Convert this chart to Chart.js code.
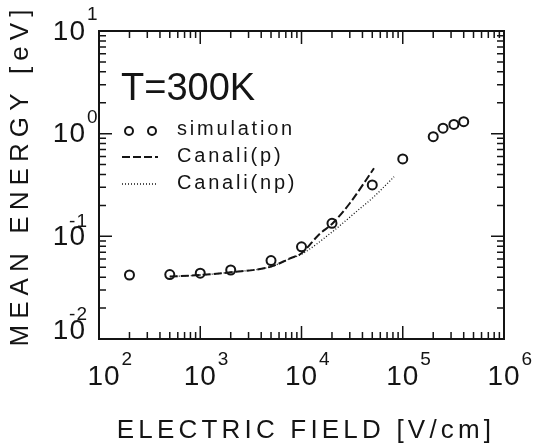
<!DOCTYPE html>
<html>
<head>
<meta charset="utf-8">
<script src="https://cdn.jsdelivr.net/npm/chart.js@4.4.0/dist/chart.umd.min.js"></script>
<style>
  html, body { margin: 0; padding: 0; background: #fff; }
  canvas { display: block; }
</style>
</head>
<body>
<canvas id="energyChart" width="548" height="445"></canvas>
<script>
// simulation points
const simField = [200, 500, 1000, 2000, 5000, 1e4, 2e4, 5e4, 1e5, 2e5, 2.5e5, 3.2e5, 4e5]
const simEnergy = [0.042, 0.0424, 0.0438, 0.047, 0.058, 0.079, 0.134, 0.317, 0.568, 0.935, 1.13, 1.23, 1.31]

// Canali (p) curve
const canaliPField = [500, 1000, 2000, 5000, 7700, 1e4, 1.5e4, 2e4, 3e4, 5.2e4]
const canaliPEnergy = [0.0406, 0.042, 0.0447, 0.0507, 0.061, 0.0684, 0.105, 0.132, 0.21, 0.46]

// Canali (np) curve
const canaliNpField = [500, 1000, 2000, 5000, 7700, 1e4, 2e4, 3.5e4, 5e4, 8.2e4]
const canaliNpEnergy = [0.0406, 0.042, 0.0447, 0.0507, 0.0605, 0.067, 0.11, 0.175, 0.235, 0.38]

// decade ticks and their exponents
const xTicks = [1e2, 1e3, 1e4, 1e5, 1e6]
const xTickExp = ['2', '3', '4', '5', '6']
const yTicks = [1e-2, 1e-1, 1e0, 1e1]
const yTickExp = ['-2', '-1', '0', '1']

const xTitle = 'ELECTRIC FIELD [V/cm]'
const yTitle = 'MEAN ENERGY [eV]'
const tempLabel = 'T=300K'
const legendLabels = ['simulation', 'Canali(p)', 'Canali(np)']

const INK = '#141414'
const FONT = '"Liberation Sans", Arial, sans-serif'

function toPoints (xs, ys) {
  return xs.map((x, i) => ({ x, y: ys[i] }))
}

// frame, inward ticks, labels and legend
const decorations = {
  id: 'decorations',
  afterDatasetsDraw (chart) {
    const ctx = chart.ctx
    const area = chart.chartArea
    const xs = chart.scales.x
    const ys = chart.scales.y
    ctx.save()
    ctx.strokeStyle = INK
    ctx.fillStyle = INK

    // frame
    ctx.lineWidth = 2
    ctx.strokeRect(area.left, area.top, area.right - area.left, area.bottom - area.top)

    // ticks
    ctx.lineWidth = 1.5
    ctx.beginPath()
    for (let i = 0; i < xTicks.length; i++) {
      for (let m = 1; m <= 9; m++) {
        const v = xTicks[i] * m
        if (v > xTicks[xTicks.length - 1]) break
        const px = xs.getPixelForValue(v)
        const len = m === 1 ? 13 : 7
        ctx.moveTo(px, area.bottom); ctx.lineTo(px, area.bottom - len)
        ctx.moveTo(px, area.top); ctx.lineTo(px, area.top + len)
      }
    }
    for (let i = 0; i < yTicks.length; i++) {
      for (let m = 1; m <= 9; m++) {
        const v = yTicks[i] * m
        if (v > yTicks[yTicks.length - 1]) break
        const py = ys.getPixelForValue(v)
        const len = m === 1 ? 13 : 7
        ctx.moveTo(area.left, py); ctx.lineTo(area.left + len, py)
        ctx.moveTo(area.right, py); ctx.lineTo(area.right - len, py)
      }
    }
    ctx.stroke()

    // x tick labels
    ctx.letterSpacing = '1px'
    xTicks.forEach((v, i) => {
      let px = xs.getPixelForValue(v)
      if (i === 0) px += 5
      ctx.font = '28px ' + FONT
      ctx.textAlign = 'center'
      ctx.textBaseline = 'middle'
      ctx.fillText('10', px, 377)
      const w = ctx.measureText('10').width
      ctx.font = '19px ' + FONT
      ctx.textAlign = 'left'
      ctx.fillText(xTickExp[i], px + w / 2 + 1, 360)
    })

    // y tick labels
    yTicks.forEach((v, i) => {
      const py = Math.min(ys.getPixelForValue(v), area.bottom - 9)
      ctx.font = '28px ' + FONT
      ctx.textAlign = 'right'
      ctx.textBaseline = 'middle'
      ctx.fillText('10', area.left - 13, py + 1)
      ctx.font = '19px ' + FONT
      const e = yTickExp[i]
      if (e.startsWith('-')) {
        ctx.textAlign = 'right'
        ctx.fillText(e, area.left - 11, py - 15)
      } else {
        ctx.textAlign = 'left'
        ctx.fillText(e, area.left - 12, py - 16)
      }
    })

    // axis titles
    ctx.font = '26px ' + FONT
    ctx.letterSpacing = '4.2px'
    ctx.textAlign = 'center'
    ctx.textBaseline = 'middle'
    ctx.fillText(xTitle, 306, 431)
    ctx.save()
    ctx.translate(21, 175)
    ctx.rotate(-Math.PI / 2)
    ctx.letterSpacing = '6.1px'
    ctx.fillText(yTitle, 0, 0)
    ctx.restore()

    // temperature
    ctx.letterSpacing = '0px'
    ctx.font = '38px ' + FONT
    ctx.textAlign = 'left'
    ctx.fillText(tempLabel, 121, 90)

    // legend
    const rows = [130, 157, 184]
    const sim = chart.data.datasets[0]
    ctx.lineWidth = sim.pointBorderWidth
    ;[129, 152].forEach(cx => {
      ctx.beginPath()
      ctx.arc(cx, rows[0] + 1, sim.pointRadius - 0.5, 0, Math.PI * 2)
      ctx.stroke()
    })
    ;[1, 2].forEach(k => {
      const ds = chart.data.datasets[k]
      ctx.save()
      ctx.lineWidth = ds.borderWidth
      ctx.setLineDash(ds.borderDash)
      ctx.beginPath()
      ctx.moveTo(122, rows[k])
      ctx.lineTo(158, rows[k])
      ctx.stroke()
      ctx.restore()
    })
    ctx.font = '20px ' + FONT
    ctx.letterSpacing = '2.8px'
    legendLabels.forEach((t, k) => {
      ctx.fillText(t, 177, rows[k] - 1)
    })
    ctx.restore()
  }
}

const chart = new Chart(document.getElementById('energyChart'), {
  type: 'scatter',
  data: {
    datasets: [
      {
        label: legendLabels[0],
        data: toPoints(simField, simEnergy),
        showLine: false,
        pointRadius: 4.5,
        pointBorderWidth: 2,
        borderColor: INK,
        backgroundColor: 'rgba(0,0,0,0)',
        order: 0
      },
      {
        label: legendLabels[1],
        data: toPoints(canaliPField, canaliPEnergy),
        showLine: true,
        pointRadius: 0,
        borderColor: INK,
        borderWidth: 2,
        borderDash: [8, 3],
        cubicInterpolationMode: 'monotone',
        order: 1
      },
      {
        label: legendLabels[2],
        data: toPoints(canaliNpField, canaliNpEnergy),
        showLine: true,
        pointRadius: 0,
        borderColor: INK,
        borderWidth: 1.3,
        borderDash: [1, 2],
        cubicInterpolationMode: 'monotone',
        order: 2
      }
    ]
  },
  options: {
    responsive: false,
    animation: false,
    devicePixelRatio: 1,
    layout: { padding: { left: 99, right: 44, top: 31, bottom: 106 } },
    plugins: {
      legend: { display: false },
      tooltip: { enabled: false }
    },
    scales: {
      x: { type: 'logarithmic', min: 1e2, max: 1e6, display: false },
      y: { type: 'logarithmic', min: 1e-2, max: 1e1, display: false }
    }
  },
  plugins: [decorations]
})
</script>
</body>
</html>
